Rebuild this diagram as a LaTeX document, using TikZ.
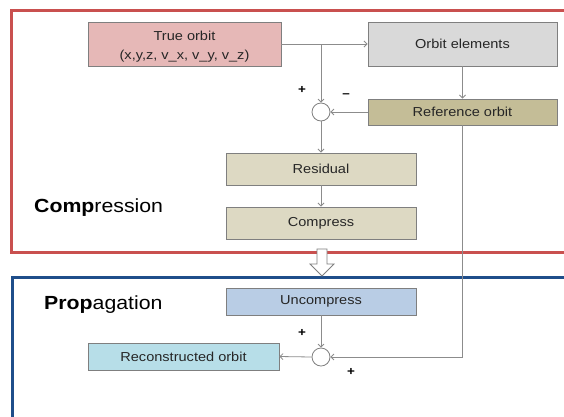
\documentclass[tikz,border=0pt]{standalone}
\usepackage{fontspec}
\setmainfont[FakeStretch=1.12]{Liberation Sans}
\usetikzlibrary{arrows.meta}
\definecolor{framered}{HTML}{C9504F}
\definecolor{frameblue}{HTML}{1F4E8A}
\definecolor{pinkfill}{HTML}{E6B8B7}
\definecolor{grayfill}{HTML}{D9D9D9}
\definecolor{olivefill}{HTML}{C4BD97}
\definecolor{tanfill}{HTML}{DDD9C3}
\definecolor{bluefill}{HTML}{B9CDE5}
\definecolor{cyanfill}{HTML}{B7DEE8}
\definecolor{edgegray}{HTML}{7F7F7F}
\definecolor{linegray}{HTML}{8C8C8C}
\definecolor{textgray}{HTML}{262626}
\begin{document}
\begin{tikzpicture}[x=1pt,y=-1pt,
  box/.style={draw=edgegray, line width=0.9pt, inner sep=0pt, minimum width=190pt,
    font=\fontsize{13}{19}\selectfont, align=center, text=textgray},
  sumnode/.style={circle, draw=edgegray, fill=white, line width=0.8pt, minimum size=18pt, inner sep=0pt},
  conn/.style={draw=linegray, line width=0.8pt, -{Straight Barb[length=3pt,width=6pt]}},
  sign/.style={font=\bfseries\fontsize{12}{12}\selectfont, inner sep=0pt},
  title/.style={font=\fontsize{19}{22}\selectfont, anchor=west, inner sep=0pt}]
\clip (0,0) rectangle (564,416);
\fill[white] (0,0) rectangle (564,416);
% frames
\draw[framered, line width=3pt] (11,10) rectangle (620,252);
\draw[frameblue, line width=3pt] (12,277) rectangle (620,480);
% nodes
\node[box, fill=pinkfill, minimum width=193pt, minimum height=44pt] (true) at (184.5,44) {\rule{0pt}{15pt}True orbit\\(x,y,z, v\_x, v\_y, v\_z)};
\node[box, fill=grayfill, minimum width=189pt, minimum height=44pt] (oe) at (462.5,44) {Orbit elements};
\node[box, fill=olivefill, minimum width=189pt, minimum height=26pt] (ref) at (462.5,112) {Reference orbit};
\node[sumnode] (s1) at (321,112) {};
\node[box, fill=tanfill, minimum height=32pt] (res) at (321,169) {Residual};
\node[box, fill=tanfill, minimum height=32pt] (comp) at (321,223) {Compress};
\node[box, fill=bluefill, minimum height=27pt] (unc) at (321,301.5) {Uncompress};
\node[box, fill=cyanfill, minimum width=191pt, minimum height=27pt] (rec) at (183.5,356.5) {Reconstructed orbit};
\node[sumnode] (s2) at (321,357) {};
\coordinate (br) at (321,44);
% connectors
\draw[conn] (true.east) -- (oe.west);
\draw[conn] (br) -- (s1.north);
\draw[conn] (oe.south) -- (ref.north);
\draw[conn] (ref.west) -- (s1.east);
\draw[conn] (s1.south) -- (res.north);
\draw[conn] (res.south) -- (comp.north);
\draw[conn] (unc.south) -- (s2.north);
\draw[conn] (ref.south) |- (s2.east);
\draw[conn] (s2.west) -- (rec.east);
% hollow arrow
\draw[edgegray, fill=white, line width=0.8pt] (317,249) -- (327,249) -- (327,264) -- (334,264) -- (322,276) -- (310,264) -- (317,264) -- cycle;
% signs
\node[sign] (p1) at (302,90) {+};
\node[sign] (m1) at (346,96) {--};
\node[sign] (p2) at (302,333) {+};
\node[sign] (p3) at (351,372) {+};
% titles
\node[title] (tcomp) at (34,208) {\textbf{Comp}ression};
\node[title] (tprop) at (44,305) {\textbf{Prop}agation};
\end{tikzpicture}
\end{document}
